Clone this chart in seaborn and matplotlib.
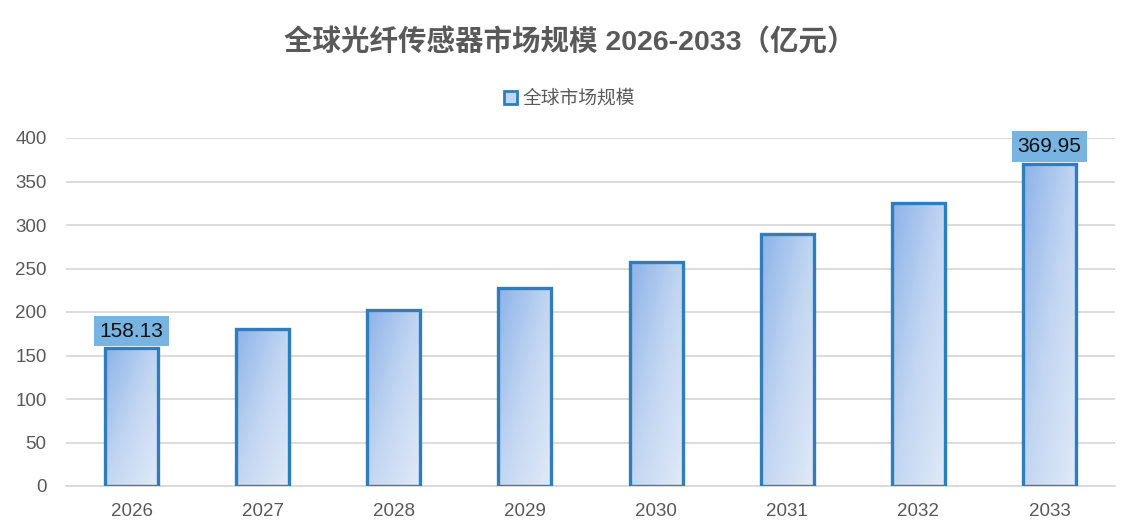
import matplotlib
matplotlib.use("Agg")
import matplotlib.pyplot as plt
import matplotlib.patches as mpatches
import numpy as np
import seaborn as sns

# Chart data
years = ["2026", "2027", "2028", "2029", "2030", "2031", "2032", "2033"]
market_size = [158.13, 180, 202, 228, 257, 290, 325, 369.95]
labelled_years = ["2026", "2033"]

TITLE = "全球光纤传感器市场规模 2026-2033（亿元）"
SERIES = "全球市场规模"

EDGE = "#2e7dbd"
TEXT_GREY = "#595959"
LABEL_BOX = "#78b4e2"

sns.set_style("white")
plt.rcParams["font.family"] = ["Liberation Sans", "Noto Sans CJK SC", "DejaVu Sans"]

fig = plt.figure(figsize=(11.39, 5.32), dpi=100)
ax = fig.add_axes([66 / 1139, 1 - 486 / 532, (1115 - 66) / 1139, (486 - 138) / 532])

sns.barplot(x=years, y=market_size, ax=ax, width=0.405,
            edgecolor=EDGE, linewidth=2.4, zorder=3)

# Diagonal gradient fill: darker blue top-left to pale blue bottom-right
gx, gy = np.meshgrid(np.linspace(0, 1, 64), np.linspace(0, 1, 64))
grad = (gx + gy) / 2.0
cmap = matplotlib.colors.LinearSegmentedColormap.from_list("bar", ["#8db3e9", "#c2d6f2", "#e1eaf8"])
for bar in ax.patches:
    bar.set_facecolor("none")
    x0, w, h = bar.get_x(), bar.get_width(), bar.get_height()
    im = ax.imshow(grad, cmap=cmap, extent=[x0, x0 + w, 0, h], origin="upper",
                   aspect="auto", zorder=2, interpolation="bilinear")
    clip = mpatches.Rectangle((x0, 0), w, h, transform=ax.transData)
    im.set_clip_path(clip)

ax.set_xlim(-0.5, len(years) - 0.5)
ax.set_ylim(0, 400)
ax.set_yticks(range(0, 401, 50))
ax.yaxis.grid(True, color="#d9d9d9", linewidth=1.3, zorder=0)
ax.xaxis.grid(False)
for side in ["top", "right", "left"]:
    ax.spines[side].set_visible(False)
ax.spines["bottom"].set_color("#d9d9d9")
ax.spines["bottom"].set_linewidth(1.3)
ax.tick_params(axis="both", length=0, labelsize=13.5, labelcolor=TEXT_GREY)
ax.tick_params(axis="x", pad=12)
ax.tick_params(axis="y", pad=14)
ax.set_xlabel("")
ax.set_ylabel("")

# Data labels with filled boxes
for bar, year, value in zip(ax.patches, years, market_size):
    if year in labelled_years:
        ax.text(bar.get_x() + bar.get_width() / 2, value + 9, f"{value:.2f}",
                ha="center", va="bottom", fontsize=15, color="#111111", zorder=5,
                bbox=dict(boxstyle="square,pad=0.28", facecolor=LABEL_BOX, edgecolor="none"))

fig.text(0.5, 1 - 43 / 532, TITLE, ha="center", va="center",
         fontsize=20.5, fontweight="bold", color=TEXT_GREY)

handle = mpatches.Patch(facecolor="#c2d6f2", edgecolor=EDGE, linewidth=2, label=SERIES)
fig.legend(handles=[handle], loc="center", bbox_to_anchor=(0.5, 1 - 99 / 532),
           frameon=False, fontsize=13.5, handlelength=0.7, handleheight=0.7,
           handletextpad=0.3, labelcolor=TEXT_GREY)

fig.savefig("out.png", dpi=100)
